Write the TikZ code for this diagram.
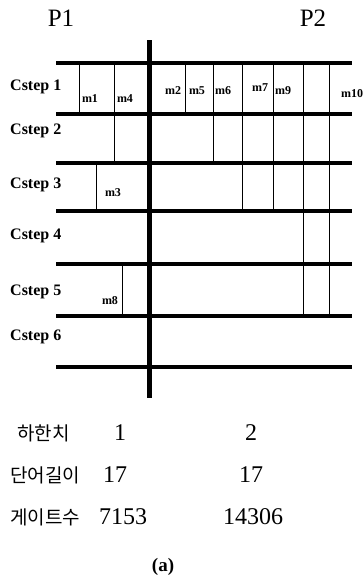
\documentclass[tikz,border=0pt]{standalone}
\usepackage{fontspec}
\setmainfont{Liberation Serif}
\newfontfamily\kor{Noto Sans CJK KR}
\begin{document}
\begin{tikzpicture}[x=1pt,y=-1pt,
  thickh/.style={line width=3.5pt},
  thickv/.style={line width=5pt},
  thin/.style={line width=0.8pt},
  steplbl/.style={font=\fontsize{16}{16}\selectfont\bfseries, anchor=west, inner sep=0pt},
  mlbl/.style={font=\fontsize{12}{12}\selectfont\bfseries, inner sep=0pt},
  plbl/.style={font=\fontsize{25}{25}\selectfont, inner sep=0pt},
  klbl/.style={font=\kor\fontsize{19}{19}\selectfont, anchor=west, inner sep=0pt},
  nlbl/.style={font=\fontsize{24}{24}\selectfont, inner sep=0pt}]
\useasboundingbox (0,0) rectangle (363,581);
% processor labels
\node[plbl] (p1) at (61,18) {P1};
\node[plbl] (p2) at (313,18) {P2};
% thin vertical lines
\draw[thin] (79,63) -- (79,114);
\draw[thin] (114,63) -- (114,163);
\draw[thin] (185,63) -- (185,114);
\draw[thin] (213,63) -- (213,163);
\draw[thin] (242,63) -- (242,211);
\draw[thin] (273,63) -- (273,211);
\draw[thin] (303,63) -- (303,316);
\draw[thin] (329,63) -- (329,316);
\draw[thin] (96,163) -- (96,211);
\draw[thin] (122,264) -- (122,316);
% thick horizontal lines
\foreach \y in {63,114,163,211,264,316,367}
  \draw[thickh] (56,\y) -- (352,\y);
% thick vertical line
\draw[thickv] (149,40) -- (149,398);
% Cstep labels
\node[steplbl] (c1) at (10,87) {Cstep 1};
\node[steplbl] (c2) at (10,131) {Cstep 2};
\node[steplbl] (c3) at (10,185) {Cstep 3};
\node[steplbl] (c4) at (10,236) {Cstep 4};
\node[steplbl] (c5) at (10,292) {Cstep 5};
\node[steplbl] (c6) at (10,337) {Cstep 6};
% operation labels
\node[mlbl] (m1) at (90,99) {m1};
\node[mlbl] (m4) at (125,99) {m4};
\node[mlbl] (m2) at (173,91) {m2};
\node[mlbl] (m5) at (197,91) {m5};
\node[mlbl] (m6) at (223,91) {m6};
\node[mlbl] (m7) at (260,88) {m7};
\node[mlbl] (m9) at (283,91) {m9};
\node[mlbl, anchor=west] (m10) at (341,94) {m10};
\node[mlbl] (m3) at (113,193) {m3};
\node[mlbl] (m8) at (110,301) {m8};
% table
\node[klbl] (k1) at (17,433) {하한치};
\node[nlbl] (n11) at (120,433) {1};
\node[nlbl] (n12) at (251,433) {2};
\node[klbl] (k2) at (10,475) {단어길이};
\node[nlbl] (n21) at (115,475) {17};
\node[nlbl] (n22) at (251,475) {17};
\node[klbl] (k3) at (10,517) {게이트수};
\node[nlbl] (n31) at (123,517) {7153};
\node[nlbl] (n32) at (253,517) {14306};
\node[font=\fontsize{19}{19}\selectfont\bfseries, inner sep=0pt] (cap) at (163,567) {(a)};
\end{tikzpicture}
\end{document}
